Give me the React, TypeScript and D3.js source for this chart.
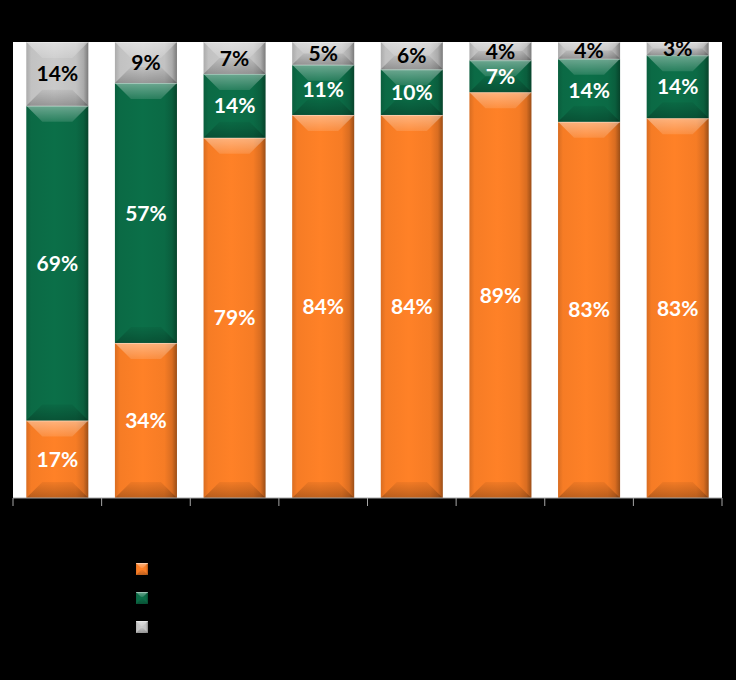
import React from "react";
import * as d3 from "d3";

const categories = ["A", "B", "C", "D", "E", "F", "G", "H"];
const seriesNames = ["Series 1", "Series 2", "Series 3"];
const orangeValues = [17, 34, 79, 84, 84, 89, 82.5, 83.3];
const greenValues = [69, 57, 14, 11, 10, 7, 13.8, 13.8];
const grayValues = [14, 9, 7, 5, 6, 4, 3.7, 2.9];

const W = 736;
const H = 680;
const plot = { left: 13, right: 722, top: 42, bottom: 498 };

const colors = ["#F67C25", "#0B6A45", "#C2C2C2"];
const labelColors = ["#FFFFFF", "#FFFFFF", "#000000"];

function Bevel({ x, y, w, h, color, id, bmax = 16 }: any) {
  const b = Math.max(0, Math.min(bmax, w / 2, h / 2));
  const c = d3.color(color)!.formatHex();
  const dark = d3.color(color)!.darker(1.3).formatHex();
  const semi = d3.color(color)!.darker(0.35).formatHex();
  const light = d3.color(color)!.brighter(0.12).formatHex();
  return (
    <g>
      <defs>
        <linearGradient id={id} x1="0" x2="1" y1="0" y2="0">
          <stop offset="0" stopColor={semi} />
          <stop offset="0.08" stopColor={c} />
          <stop offset="0.45" stopColor={light} />
          <stop offset="0.8" stopColor={c} />
          <stop offset="0.92" stopColor={semi} />
          <stop offset="1" stopColor={dark} />
        </linearGradient>
        <linearGradient id={id + "t"} x1="0" x2="0" y1="0" y2="1">
          <stop offset="0" stopColor="#ffffff" stopOpacity={0.4} />
          <stop offset="1" stopColor="#ffffff" stopOpacity={0.12} />
        </linearGradient>
        <linearGradient id={id + "b"} x1="0" x2="0" y1="0" y2="1">
          <stop offset="0" stopColor="#000000" stopOpacity={0.05} />
          <stop offset="1" stopColor="#000000" stopOpacity={0.25} />
        </linearGradient>
      </defs>
      <rect x={x} y={y} width={w} height={h} fill={`url(#${id})`} />
      <polygon
        points={`${x},${y} ${x + w},${y} ${x + w - b},${y + b} ${x + b},${y + b}`}
        fill={`url(#${id}t)`}
      />
      <polygon
        points={`${x},${y + h} ${x + w},${y + h} ${x + w - b},${y + h - b} ${x + b},${y + h - b}`}
        fill={`url(#${id}b)`}
      />
      <line x1={x} x2={x + w} y1={y + 0.5} y2={y + 0.5} stroke="#ffffff" strokeOpacity={0.35} />
    </g>
  );
}

export default function App() {
  const x = d3
    .scaleBand<string>()
    .domain(categories)
    .range([plot.left, plot.right])
    .paddingInner(0.3)
    .paddingOuter(0.15);
  const y = d3.scaleLinear().domain([0, 100]).range([plot.bottom, plot.top]);

  const table = categories.map((c, i) => ({
    cat: c,
    s0: orangeValues[i],
    s1: greenValues[i],
    s2: grayValues[i],
  }));
  const stack = d3.stack<any>().keys(["s0", "s1", "s2"])(table);
  const step = x.step();
  const ticks = d3.range(categories.length + 1).map((i) => plot.left + i * step);

  return (
    <svg
      width={W}
      height={H}
      style={{ position: "absolute", left: 0, top: 0, background: "#000" }}
    >
      <rect x={0} y={0} width={W} height={H} fill="#000" />
      <defs>
        <clipPath id="plotClip">
          <rect x={plot.left} y={plot.top} width={plot.right - plot.left} height={plot.bottom - plot.top} />
        </clipPath>
      </defs>
      <rect
        x={plot.left}
        y={plot.top}
        width={plot.right - plot.left}
        height={plot.bottom - plot.top}
        fill="#ffffff"
      />
      <g clipPath="url(#plotClip)">
        {stack.map((layer, si) =>
          layer.map((d, i) => {
            const x0 = x(categories[i])!;
            const yTop = y(d[1]);
            const yBot = y(d[0]);
            return (
              <Bevel
                key={`${si}-${i}`}
                id={`g${si}-${i}`}
                x={x0}
                y={yTop}
                w={x.bandwidth()}
                h={yBot - yTop}
                color={colors[si]}
              />
            );
          })
        )}
        {stack.map((layer, si) =>
          layer.map((d, i) => {
            const x0 = x(categories[i])! + x.bandwidth() / 2;
            const yTop = Math.max(y(d[1]), plot.top - 2);
            const yBot = y(d[0]);
            const v = d[1] - d[0];
            return (
              <text
                key={`t${si}-${i}`}
                x={x0}
                y={(yTop + yBot) / 2}
                dy="0.36em"
                textAnchor="middle"
                fontFamily="Lato, 'Open Sans', sans-serif"
                fontWeight="bold"
                fontSize={21}
                fill={labelColors[si]}
              >
                {`${Math.round(v)}%`}
              </text>
            );
          })
        )}
      </g>
      <line x1={plot.left} x2={plot.right} y1={plot.bottom} y2={plot.bottom} stroke="#a6a6a6" strokeWidth={1} />
      {ticks.map((t, i) => (
        <line key={i} x1={t} x2={t} y1={plot.bottom} y2={plot.bottom + 8} stroke="#a6a6a6" strokeWidth={1} />
      ))}
      {seriesNames.map((s, i) => (
        <g key={s}>
          <Bevel id={`leg${i}`} x={136} y={563 + i * 29} w={12} h={12} color={colors[i]} bmax={5} />
        </g>
      ))}
    </svg>
  );
}
